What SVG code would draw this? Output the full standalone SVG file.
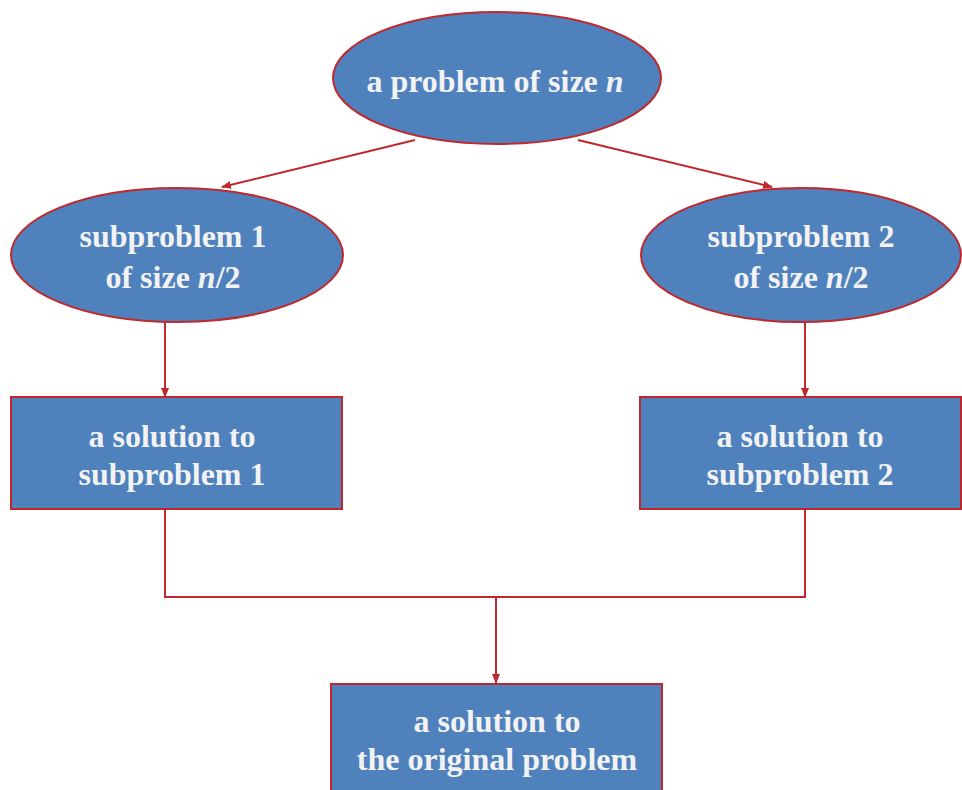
<svg xmlns="http://www.w3.org/2000/svg" width="962" height="790" viewBox="0 0 962 790">
<defs>
<style>
.n{fill:#4f81bd;stroke:#c0282d;stroke-width:2}
.t{font-family:"Liberation Serif","Times New Roman",serif;font-weight:bold;font-size:32px;fill:#f2f2f2;text-anchor:middle}
.c{fill:none;stroke:#c0282d;stroke-width:2}
</style>
<marker id="ah" markerWidth="10" markerHeight="10" refX="9" refY="5" orient="auto" markerUnits="userSpaceOnUse">
<path d="M0,1 L10,5 L0,9 Z" fill="#c0282d"/>
</marker>
</defs>
<rect width="962" height="790" fill="#ffffff"/>
<g id="connectors">
<line class="c" x1="415" y1="140" x2="222" y2="187" marker-end="url(#ah)"/>
<line class="c" x1="578" y1="140" x2="772" y2="187" marker-end="url(#ah)"/>
<line class="c" x1="165" y1="322" x2="165" y2="397" marker-end="url(#ah)"/>
<line class="c" x1="805" y1="322" x2="805" y2="397" marker-end="url(#ah)"/>
<polyline class="c" points="165,509 165,597 805,597 805,509"/>
<line class="c" x1="496" y1="597" x2="496" y2="683" marker-end="url(#ah)"/>
</g>
<g id="problem">
<ellipse class="n" cx="497" cy="78" rx="164" ry="66"/>
<text class="t" x="495" y="92">a problem of size <tspan font-style="italic">n</tspan></text>
</g>
<g id="sub1">
<ellipse class="n" cx="177" cy="255" rx="166" ry="67"/>
<text class="t" x="173" y="247">subproblem 1</text>
<text class="t" x="173" y="288">of size <tspan font-style="italic">n</tspan>/2</text>
</g>
<g id="sub2">
<ellipse class="n" cx="801" cy="255" rx="160" ry="67"/>
<text class="t" x="801" y="247">subproblem 2</text>
<text class="t" x="801" y="288">of size <tspan font-style="italic">n</tspan>/2</text>
</g>
<g id="sol1">
<rect class="n" x="11" y="397" width="331" height="112"/>
<text class="t" x="172" y="447">a solution to</text>
<text class="t" x="172" y="485">subproblem 1</text>
</g>
<g id="sol2">
<rect class="n" x="640" y="397" width="321" height="112"/>
<text class="t" x="800" y="447">a solution to</text>
<text class="t" x="800" y="485">subproblem 2</text>
</g>
<g id="final">
<rect class="n" x="331" y="684" width="331" height="120"/>
<text class="t" x="497" y="732">a solution to</text>
<text class="t" x="497" y="770">the original problem</text>
</g>
</svg>
